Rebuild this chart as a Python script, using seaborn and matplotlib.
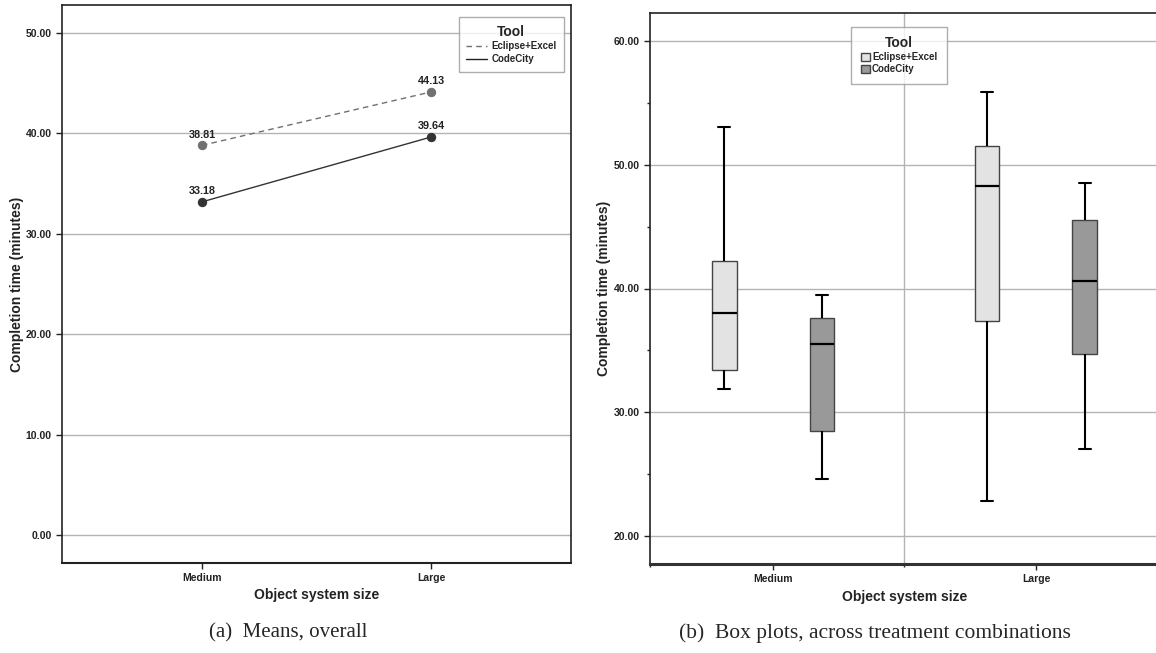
import numpy as np
import pandas as pd
import matplotlib
matplotlib.use("Agg")
import matplotlib.pyplot as plt
import seaborn as sns
from matplotlib.lines import Line2D
from matplotlib.patches import Patch
from matplotlib.ticker import FixedLocator, FormatStrFormatter

sizes = ["Medium", "Large"]
tools = ["Eclipse+Excel", "CodeCity"]

# (a) mean completion time per object system size
mean_eclipse = [38.81, 44.13]
mean_codecity = [33.18, 39.64]

# (b) five-number summaries: min, q1, median, q3, max
box_eclipse_medium = [31.9, 33.45, 38.0, 42.25, 53.05]
box_codecity_medium = [24.6, 28.45, 35.55, 37.65, 39.45]
box_eclipse_large = [22.8, 37.35, 48.25, 51.5, 55.9]
box_codecity_large = [27.05, 34.7, 40.6, 45.5, 48.55]

sns.set_style("white")
plt.rcParams["font.family"] = ["Liberation Sans", "DejaVu Sans"]
plt.rcParams["font.weight"] = "bold"

df_means = pd.DataFrame({
    "size": sizes * 2,
    "tool": [tools[0]] * 2 + [tools[1]] * 2,
    "time": mean_eclipse + mean_codecity,
})

rows = []
for tool, size, vals in [
    (tools[0], "Medium", box_eclipse_medium),
    (tools[1], "Medium", box_codecity_medium),
    (tools[0], "Large", box_eclipse_large),
    (tools[1], "Large", box_codecity_large),
]:
    for v in vals:
        rows.append({"size": size, "tool": tool, "time": v})
df_box = pd.DataFrame(rows)

fig = plt.figure(figsize=(11.56, 6.53), dpi=100)
ax1 = fig.add_axes([62 / 1156, 1 - 563 / 653, 509 / 1156, 558 / 653])
ax2 = fig.add_axes([650 / 1156, 1 - 564 / 653, 509 / 1156, 551 / 653])

line_cols = ["#707070", "#333333"]

# ---- panel a: means
sns.pointplot(data=df_means, x="size", y="time", hue="tool", order=sizes,
              hue_order=tools, palette=line_cols, linestyles=["--", "-"],
              markers=["o", "o"], markersize=6, linewidth=1, errorbar=None,
              dodge=False, legend=False, ax=ax1)
for ln in ax1.lines:
    if ln.get_linestyle() == "--":
        ln.set_dashes([4, 3])

for vals in [mean_eclipse, mean_codecity]:
    for i, v in enumerate(vals):
        ax1.annotate(f"{v:.2f}", (i, v), xytext=(0, 4), textcoords="offset points",
                     ha="center", va="bottom", fontsize=7.8, fontweight="bold",
                     color="#222222")

ax1.set_xlim(-0.611, 1.611)
ax1.set_ylim(-2.79, 52.79)
ax1.set_yticks(np.arange(0, 51, 10))
ax1.yaxis.set_major_formatter(FormatStrFormatter("%.2f"))
ax1.yaxis.grid(True, color="#b4b4b4", linewidth=1)
ax1.set_axisbelow(True)

leg1 = ax1.legend(
    handles=[Line2D([], [], color=line_cols[0], lw=1, dashes=[4, 3]),
             Line2D([], [], color="#222222", lw=1)],
    labels=tools, title="Tool", loc="upper right", bbox_to_anchor=(0.986, 0.978),
    fontsize=7, title_fontproperties={"weight": "bold", "size": 10},
    fancybox=False, edgecolor="#999999", handlelength=2.2, borderpad=0.75,
    labelspacing=0.3, handletextpad=0.4, borderaxespad=0)
leg1.get_frame().set_linewidth(1)

# ---- panel b: box plots
sns.boxplot(data=df_box, x="size", y="time", hue="tool", order=sizes,
            hue_order=tools, palette=["#e3e3e3", "#999999"], width=0.74,
            gap=0.75, whis=(0, 100), linecolor="#444444", linewidth=1,
            legend=False, ax=ax2,
            medianprops={"color": "black", "linewidth": 1.6},
            whiskerprops={"color": "black", "linewidth": 1.5},
            capprops={"color": "black", "linewidth": 1.5})

ax2.set_xlim(-0.468, 1.468)
ax2.set_ylim(17.74, 62.26)
ax2.set_yticks(np.arange(20, 61, 10))
ax2.yaxis.set_minor_locator(FixedLocator([25, 35, 45, 55]))
ax2.yaxis.set_major_formatter(FormatStrFormatter("%.2f"))
ax2.xaxis.set_minor_locator(FixedLocator([-0.468, 0.5]))
ax2.yaxis.grid(True, color="#b4b4b4", linewidth=1)
ax2.axvline(0.5, color="#b4b4b4", linewidth=1, zorder=0)
ax2.set_axisbelow(True)

leg2 = ax2.legend(
    handles=[Patch(facecolor="#e3e3e3", edgecolor="#444444"),
             Patch(facecolor="#999999", edgecolor="#444444")],
    labels=tools, title="Tool", loc="upper left", bbox_to_anchor=(0.395, 0.975),
    fontsize=7, title_fontproperties={"weight": "bold", "size": 10},
    fancybox=False, edgecolor="#999999", handlelength=0.9, handleheight=0.9,
    borderpad=1.0, labelspacing=0.2, handletextpad=0.25, borderaxespad=0)
leg2.get_frame().set_linewidth(1)

for ax in (ax1, ax2):
    ax.set_xlabel("Object system size", fontsize=10, fontweight="bold", color="#222222")
    ax.set_ylabel("Completion time (minutes)", fontsize=10, fontweight="bold", color="#222222")
    ax.tick_params(axis="both", which="major", direction="out", length=4, width=1,
                   labelsize=7.5, colors="#222222", bottom=True, left=True)
    ax.tick_params(axis="both", which="minor", direction="out", length=2, width=1,
                   bottom=True, left=True)
    for s in ax.spines.values():
        s.set_color("#222222")
        s.set_linewidth(1.2)
    for lab in ax.get_xticklabels() + ax.get_yticklabels():
        lab.set_fontweight("bold")

ax1.spines["bottom"].set_linewidth(1.5)
ax2.spines["bottom"].set_linewidth(2.2)
ax2.spines["bottom"].set_color("#333333")
ax2.spines["right"].set_visible(False)

ax1.xaxis.set_label_coords(0.5, -0.045)
ax2.xaxis.set_label_coords(0.5, -0.047)
ax1.yaxis.set_label_coords(-0.075, 0.5)
ax2.yaxis.set_label_coords(-0.077, 0.5)

fig.text(288 / 1156, 1 - 633 / 653, "(a)  Means, overall", ha="center", va="center",
         fontsize=15, family=["Liberation Serif", "DejaVu Serif"], fontweight="normal")
fig.text(875 / 1156, 1 - 633 / 653, "(b)  Box plots, across treatment combinations",
         ha="center", va="center", fontsize=15.5,
         family=["Liberation Serif", "DejaVu Serif"], fontweight="normal")

fig.savefig("out.png", dpi=100)
